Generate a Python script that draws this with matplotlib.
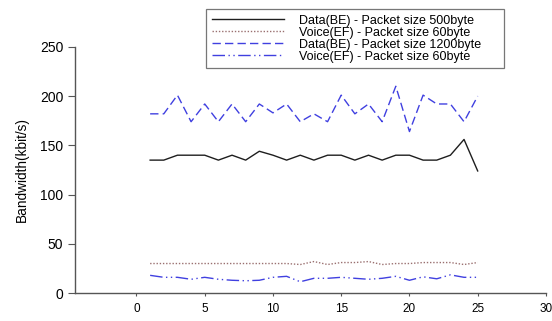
import matplotlib
matplotlib.use("Agg")
import matplotlib.pyplot as plt

plt.rcParams["font.family"] = ["Liberation Sans", "DejaVu Sans"]

# measurement index 1..25
x = list(range(1, 26))

data_be_500 = [135, 135, 140, 140, 140, 135, 140, 135, 144, 140, 135, 140, 135,
               140, 140, 135, 140, 135, 140, 140, 135, 135, 140, 156, 124]
voice_ef_60_a = [30, 30, 30, 30, 30, 30, 30, 30, 30, 30, 30, 29, 32,
                 29, 31, 31, 32, 29, 30, 30, 31, 31, 31, 29, 31]
data_be_1200 = [182, 182, 201, 174, 192, 174, 192, 174, 192, 183, 192, 174, 182,
                174, 201, 182, 192, 174, 210, 164, 201, 192, 192, 174, 200]
voice_ef_60_b = [18, 16, 16, 14, 16, 14, 13, 12.5, 13, 16, 17, 11.5, 15,
                 15, 16, 15, 14, 15, 17, 13, 16.5, 14.5, 18.5, 16, 16]

labels = ["Data(BE) - Packet size 500byte",
          "Voice(EF) - Packet size 60byte",
          "Data(BE) - Packet size 1200byte",
          "Voice(EF) - Packet size 60byte"]

fig = plt.figure(figsize=(5.52, 3.21), dpi=100)
ax = fig.add_axes([0.136, 0.087, 0.853, 0.767])

blue = "#4040e0"
ax.plot(x, data_be_500, color="#1e1e1e", lw=1.0, label=labels[0])
ax.plot(x, voice_ef_60_a, color="#9a7070", lw=1.0, linestyle=(0, (1, 1.3)), label=labels[1])
ax.plot(x, data_be_1200, color=blue, lw=1.0, linestyle=(0, (6, 3)), label=labels[2])
ax.plot(x, voice_ef_60_b, color=blue, lw=1.0,
        linestyle=(0, (9, 2.5, 1, 2.5, 1, 2.5)), label=labels[3])

ax.set_xlim(-4.5, 30)
ax.set_ylim(0, 250)
ax.set_xticks([0, 5, 10, 15, 20, 25, 30])
ax.set_yticks([0, 50, 100, 150, 200, 250])
ax.spines["top"].set_visible(False)
ax.spines["right"].set_visible(False)
for s in ("left", "bottom"):
    ax.spines[s].set_color("#555555")
    ax.spines[s].set_linewidth(1.0)
ax.tick_params(axis="x", labelsize=8.5, color="#555555", length=2.5, width=0.8, pad=4.5)
ax.tick_params(axis="y", labelsize=10, color="#555555", length=5, width=0.8, pad=3.5)
ax.set_ylabel("Bandwidth(kbit/s)", fontsize=9.8, labelpad=8)

# legend box spans a fixed strip above the plot area
x0, x1 = 206 / 552, 504 / 552
leg = fig.legend(loc="upper left", bbox_to_anchor=(x0, 0, x1 - x0, 1 - 9 / 321),
                 mode="expand", fontsize=9, frameon=True, fancybox=False,
                 handlelength=5.8, handletextpad=1.2, labelspacing=0.0,
                 borderpad=0.45, borderaxespad=0)
leg.get_frame().set_edgecolor("#555555")
leg.get_frame().set_linewidth(0.9)

fig.savefig("out.png", dpi=100)
